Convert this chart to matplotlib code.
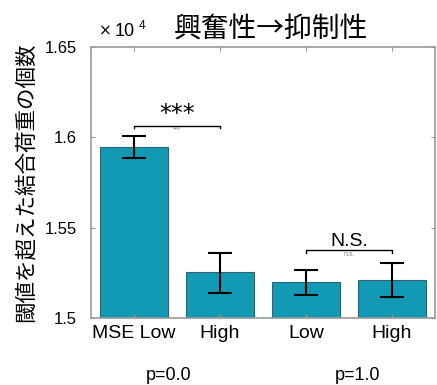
import numpy as np
import matplotlib.pyplot as plt

plt.rcParams['font.family'] = ['Liberation Sans', 'Noto Sans CJK JP']

# データ (単位: 10^4)
categories = ['MSE Low', 'High', 'Low', 'High']
means = [1.5946, 1.5254, 1.5199, 1.5210]
err_low = [0.0061, 0.0116, 0.0072, 0.0094]
err_high = [0.0061, 0.0105, 0.0066, 0.0094]
group_labels = ['p=0.0', 'p=1.0']
sig_pairs = [(0, 1, '***', '***'), (2, 3, 'N.S.', 'n.s.')]
sig_heights = [1.6065, 1.5375]

x = np.arange(1, len(categories) + 1)

fig = plt.figure(figsize=(4.37, 3.85), dpi=100)
ax = fig.add_axes([91 / 437, 1 - 318 / 385, 344 / 437, 271 / 385])

ax.bar(x, means, width=0.8, color='#129ab5', edgecolor='#2b6470', linewidth=0.8)
ax.errorbar(x, means, yerr=[err_low, err_high], fmt='none', ecolor='black',
            elinewidth=1.5, capsize=8.5, capthick=1.5)

# 有意差の括弧
for (i, j, lab, small), h in zip(sig_pairs, sig_heights):
    ax.plot([x[i], x[i], x[j], x[j]], [h - 0.0015, h, h, h - 0.0015],
            color='black', lw=1.0)
    if lab == '***':
        ax.text((x[i] + x[j]) / 2, h - 0.0005, lab, ha='center', va='bottom',
                fontsize=17, family=['DejaVu Sans'])
    else:
        ax.text((x[i] + x[j]) / 2, h + 0.0003, lab, ha='center', va='bottom',
                fontsize=14)
    ax.text((x[i] + x[j]) / 2, h - 0.0002, small, ha='center', va='top',
            fontsize=5, color='#888888')

ax.set_xlim(0.5, 4.5)
ax.set_ylim(1.5, 1.65)
ax.set_yticks([1.5, 1.55, 1.6, 1.65])
ax.set_yticklabels(['1.5', '1.55', '1.6', '1.65'])
ax.set_xticks(x)
ax.set_xticklabels(categories)
ax.tick_params(direction='in', top=True, right=True, length=3,
               color='#999999', pad=10)
ax.tick_params(axis='y', labelsize=12)
ax.tick_params(axis='x', labelsize=14, pad=5)
for s in ax.spines.values():
    s.set_color('#999999')
    s.set_linewidth(1.2)

ax.set_ylabel('閾値を超えた結合荷重の個数', fontsize=15.5, labelpad=6,
              family=['Noto Sans CJK JP'])
fig.text(99 / 437, 1 - 31 / 385, '×', fontsize=11, ha='left', va='center',
         family=['DejaVu Sans'])
fig.text(115 / 437, 1 - 31 / 385, '10', fontsize=13, ha='left', va='center')
fig.text(139 / 437, 1 - 26 / 385, '4', fontsize=8.5, ha='left', va='center')
fig.text(271 / 437, 1 - 30 / 385, '興奮性→抑制性', fontsize=20,
         ha='center', va='center', family=['Noto Sans CJK JP'])

for gx, gl in zip([169, 358], group_labels):
    fig.text(gx / 437, 1 - 375 / 385, gl, fontsize=13, ha='center', va='center')

fig.savefig('out.png', dpi=100)
